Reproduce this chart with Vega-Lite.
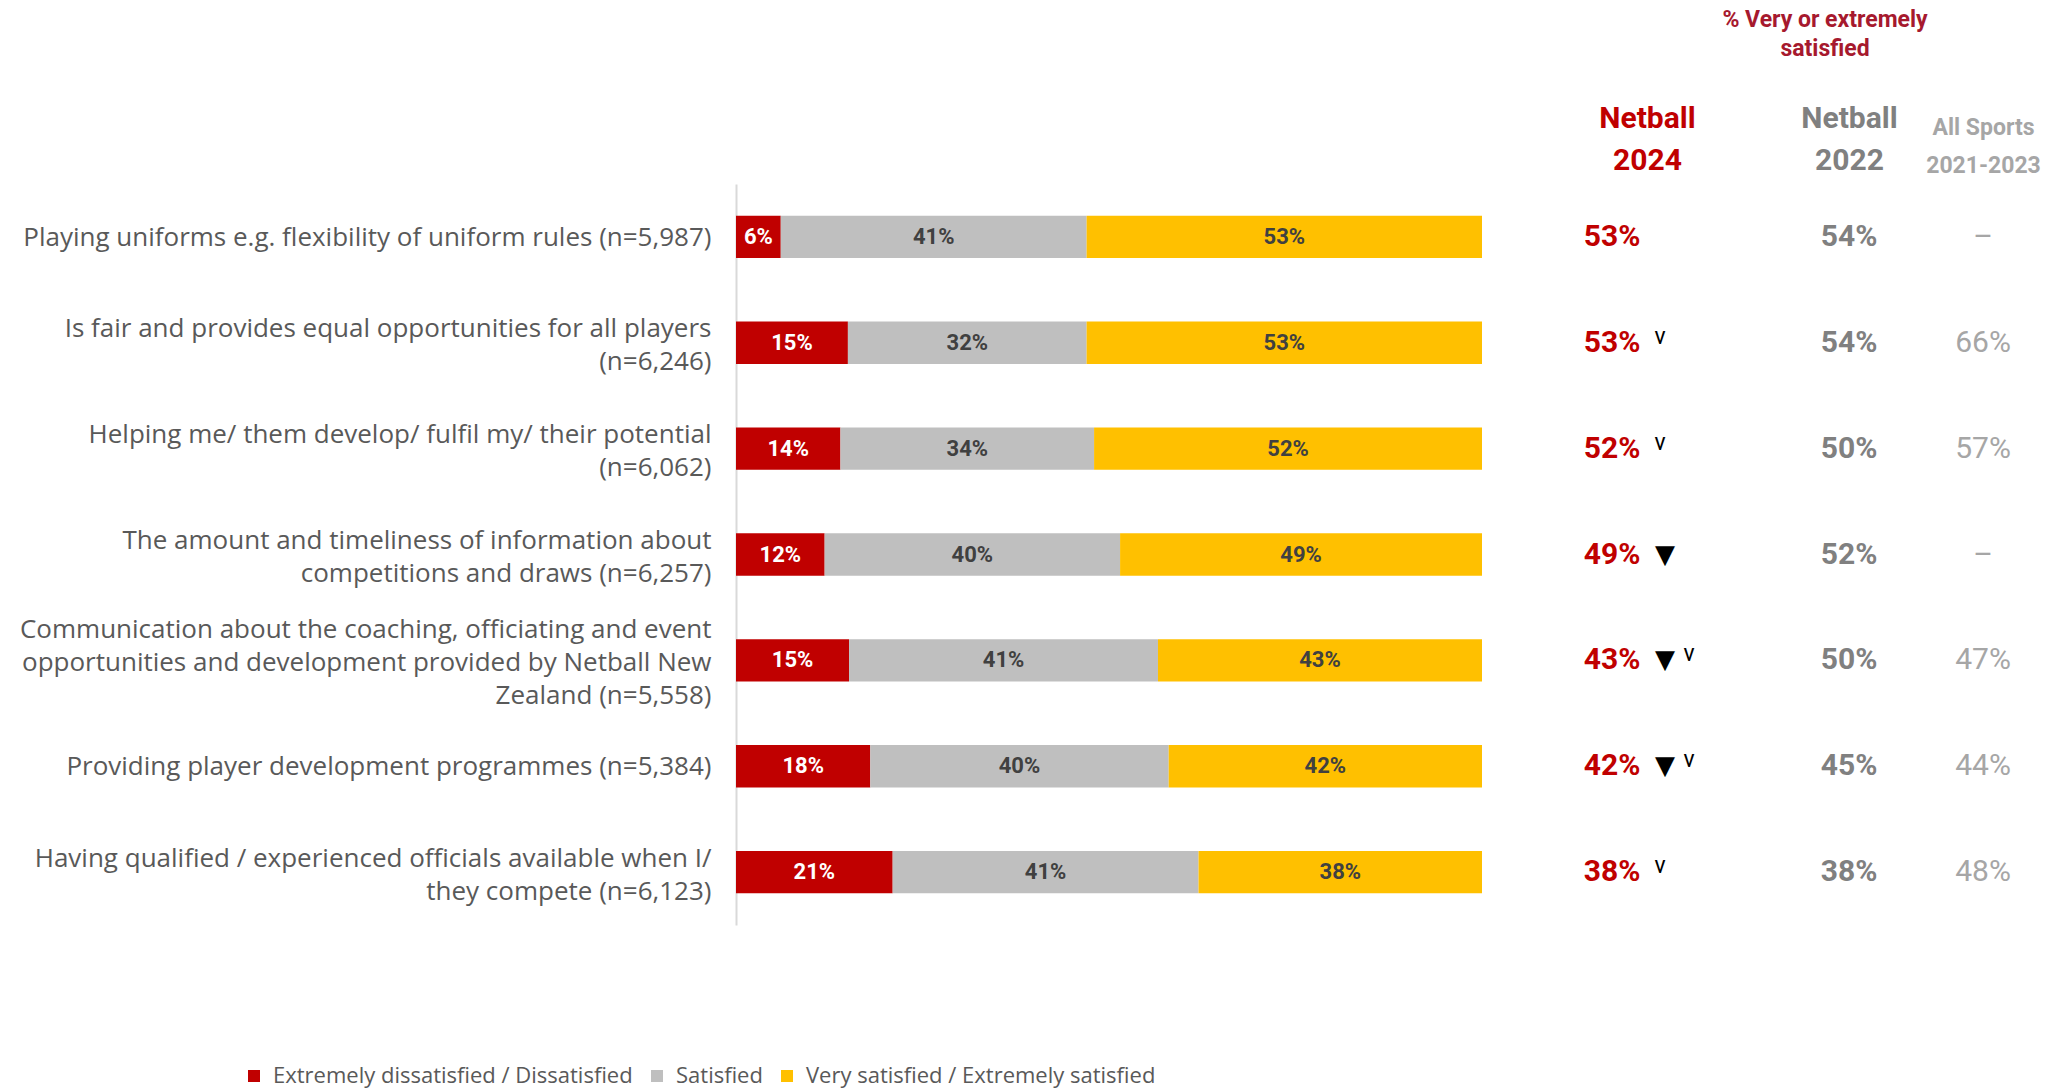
{
  "$schema": "https://vega.github.io/schema/vega-lite/v6.json",
  "padding": {"left": 5, "top": 9, "right": 5, "bottom": 5},
  "background": "white",
  "spacing": 0,
  "bounds": "flush",
  "config": {
    "view": {"stroke": null},
    "font": "Roboto",
    "text": {"font": "Roboto"}
  },
  "datasets": {
    "rows": [
      {"item": "Playing uniforms e.g. flexibility of uniform rules (n=5,987)", "dis": 0.06, "sat": 0.41, "very": 0.53, "v2024": "53%", "v2022": "54%", "vAll": "–", "tri": false, "caret": false},
      {"item": "Is fair and provides equal opportunities for all players|(n=6,246)", "dis": 0.15, "sat": 0.32, "very": 0.53, "v2024": "53%", "v2022": "54%", "vAll": "66%", "tri": false, "caret": true},
      {"item": "Helping me/ them develop/ fulfil my/ their potential|(n=6,062)", "dis": 0.14, "sat": 0.34, "very": 0.52, "v2024": "52%", "v2022": "50%", "vAll": "57%", "tri": false, "caret": true},
      {"item": "The amount and timeliness of information about|competitions and draws (n=6,257)", "dis": 0.12, "sat": 0.40, "very": 0.49, "v2024": "49%", "v2022": "52%", "vAll": "–", "tri": true, "caret": false},
      {"item": "Communication about the coaching, officiating and event|opportunities and development provided by Netball New|Zealand (n=5,558)", "dis": 0.15, "sat": 0.41, "very": 0.43, "v2024": "43%", "v2022": "50%", "vAll": "47%", "tri": true, "caret": true},
      {"item": "Providing player development programmes (n=5,384)", "dis": 0.18, "sat": 0.40, "very": 0.42, "v2024": "42%", "v2022": "45%", "vAll": "44%", "tri": true, "caret": true},
      {"item": "Having qualified / experienced officials available when I/|they compete (n=6,123)", "dis": 0.21, "sat": 0.41, "very": 0.38, "v2024": "38%", "v2022": "38%", "vAll": "48%", "tri": false, "caret": true}
    ]
  },
  "hconcat": [
    {
      "width": 746,
      "height": 741,
      "data": {"name": "rows"},
      "transform": [
        {"fold": ["dis", "sat", "very"], "as": ["category", "pct"]},
        {"stack": "pct", "groupby": ["item"], "sort": [{"field": "category", "order": "ascending"}], "offset": "normalize", "as": ["x0", "x1"]},
        {"calculate": "(datum.x0 + datum.x1) / 2", "as": "mid"}
      ],
      "encoding": {
        "y": {
          "field": "item", "type": "nominal", "sort": null,
          "scale": {"paddingInner": 0.6, "paddingOuter": 0.3},
          "axis": {
            "title": null,
            "labelExpr": "split(datum.label, '|')",
            "labelFont": "Open Sans",
            "labelFontSize": 26,
            "labelColor": "#595959",
            "labelLineHeight": 33,
            "labelPadding": 25,
            "labelLimit": 0,
            "ticks": false,
            "tickSize": 0,
            "domainColor": "#D9D9D9",
            "domainWidth": 2,
            "minExtent": 731,
            "maxExtent": 731,
            "labelOffset": {
              "condition": [
                {"test": "length(split(datum.value, '|')) == 2", "value": -13.5},
                {"test": "length(split(datum.value, '|')) == 3", "value": -30}
              ],
              "value": 1
            }
          }
        }
      },
      "layer": [
        {
          "mark": {"type": "bar"},
          "encoding": {
            "x": {"field": "x0", "type": "quantitative", "scale": {"domain": [0, 1], "nice": false}, "axis": null},
            "x2": {"field": "x1"},
            "color": {
              "field": "category", "type": "nominal",
              "scale": {"domain": ["dis", "sat", "very"], "range": ["#C00000", "#BFBFBF", "#FFC000"]},
              "legend": {
                "orient": "none", "direction": "horizontal",
                "legendX": -493, "legendY": 881,
                "title": null,
                "symbolType": "square", "symbolSize": 144, "symbolStrokeWidth": 0,
                "labelFont": "Open Sans",
                "labelFontSize": 22, "labelColor": "#595959", "labelLimit": 0,
                "columnPadding": 13, "labelOffset": 8,
                "labelExpr": "datum.label == 'dis' ? 'Extremely dissatisfied / Dissatisfied' : (datum.label == 'sat' ? 'Satisfied' : 'Very satisfied / Extremely satisfied')"
              }
            }
          }
        },
        {
          "mark": {"type": "text", "fontSize": 22, "fontWeight": "bold"},
          "encoding": {
            "x": {"field": "mid", "type": "quantitative"},
            "text": {"field": "pct", "type": "quantitative", "format": ".0%"},
            "color": {"condition": {"test": "datum.category == 'dis'", "value": "#FFFFFF"}, "value": "#404040"}
          }
        }
      ]
    },
    {
      "width": 260,
      "height": 741,
      "data": {"name": "rows"},
      "encoding": {
        "y": {"field": "item", "type": "nominal", "sort": null, "axis": null},
        "x": {
          "datum": "Netball|2024", "type": "nominal",
          "axis": {"orient": "top", "title": null, "labelAngle": 0, "labelExpr": "split(datum.label, '|')", "labelOffset": 35, "labelColor": "#C00000", "labelFontSize": 30, "labelFontWeight": "bold", "labelLineHeight": 42, "labelPadding": 51, "ticks": false, "tickSize": 0, "domain": false, "labelLimit": 0}
        }
      },
      "layer": [
        {"mark": {"type": "text", "fontSize": 30, "fontWeight": "bold", "color": "#C00000"}, "encoding": {"text": {"field": "v2024"}}},
        {"transform": [{"filter": "datum.tri"}], "mark": {"type": "text", "fontSize": 26, "color": "#000000", "dx": 53, "font": "DejaVu Sans"}, "encoding": {"text": {"value": "▼"}}},
        {"transform": [{"filter": "datum.caret && !datum.tri"}], "mark": {"type": "text", "fontSize": 23, "color": "#000000", "dx": 48, "dy": -6}, "encoding": {"text": {"value": "v"}}},
        {"transform": [{"filter": "datum.caret && datum.tri"}], "mark": {"type": "text", "fontSize": 23, "color": "#000000", "dx": 77, "dy": -6}, "encoding": {"text": {"value": "v"}}}
      ]
    },
    {
      "width": 214,
      "height": 741,
      "data": {"name": "rows"},
      "title": {"text": ["% Very or extremely", "satisfied"], "fontSize": 23, "fontWeight": "bold", "color": "#A6192E", "lineHeight": 29, "anchor": "middle", "dx": -24, "offset": 42},
      "encoding": {
        "y": {"field": "item", "type": "nominal", "sort": null, "axis": null},
        "x": {
          "datum": "Netball|2022", "type": "nominal",
          "axis": {"orient": "top", "title": null, "labelAngle": 0, "labelExpr": "split(datum.label, '|')", "labelColor": "#808080", "labelFontSize": 30, "labelFontWeight": "bold", "labelLineHeight": 42, "labelPadding": 51, "ticks": false, "tickSize": 0, "domain": false, "labelLimit": 0}
        }
      },
      "layer": [
        {"mark": {"type": "text", "fontSize": 30, "fontWeight": "bold", "color": "#808080"}, "encoding": {"text": {"field": "v2022"}}}
      ]
    },
    {
      "width": 54,
      "height": 741,
      "data": {"name": "rows"},
      "encoding": {
        "y": {"field": "item", "type": "nominal", "sort": null, "axis": null},
        "x": {
          "datum": "All Sports|2021-2023", "type": "nominal",
          "axis": {"orient": "top", "title": null, "labelAngle": 0, "labelExpr": "split(datum.label, '|')", "labelColor": "#A6A6A6", "labelFontSize": 23, "labelFontWeight": "bold", "labelLineHeight": 38, "labelPadding": 45, "ticks": false, "tickSize": 0, "domain": false, "labelLimit": 0}
        }
      },
      "layer": [
        {"mark": {"type": "text", "fontSize": 30, "fontWeight": "normal", "color": "#A6A6A6"}, "encoding": {"text": {"field": "vAll"}}}
      ]
    }
  ]
}
